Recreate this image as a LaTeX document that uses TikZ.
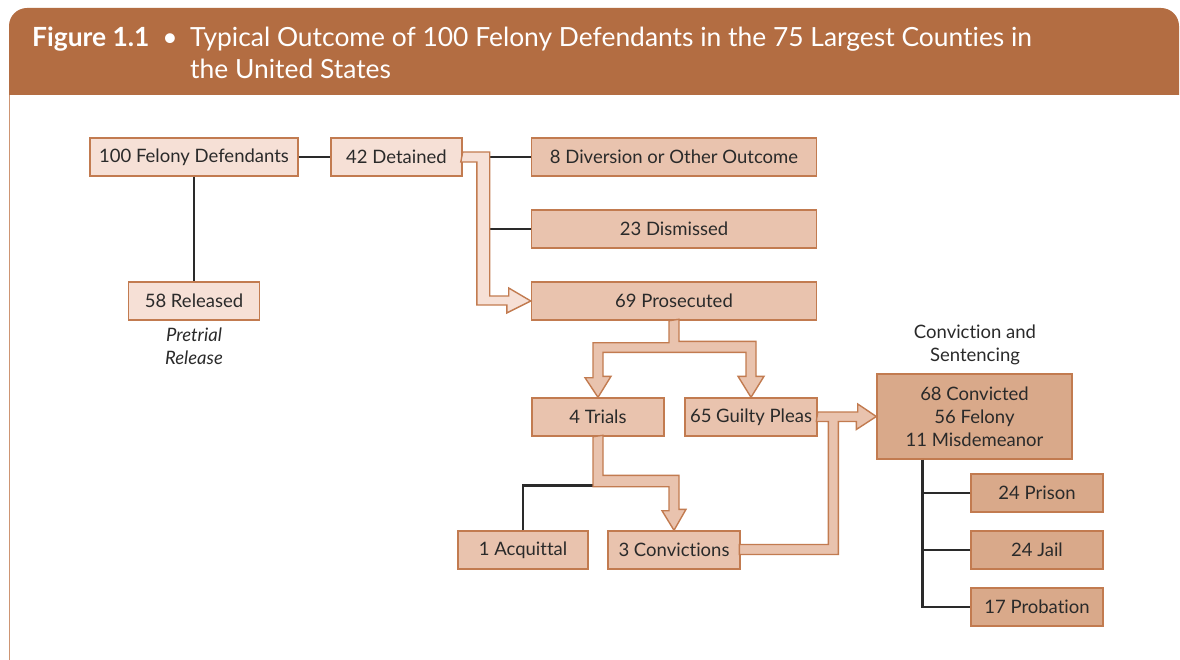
\documentclass[tikz,border=0pt]{standalone}
\usepackage{fontspec}
\setmainfont{Lato}[Ligatures=NoCommon]
\usetikzlibrary{calc}
\definecolor{hdrbrown}{HTML}{B36D42}
\definecolor{boxedge}{HTML}{C27B50}
\definecolor{boxlite}{HTML}{F6E0D6}
\definecolor{boxmid}{HTML}{E9C3AE}
\definecolor{boxdark}{HTML}{D9A98A}
\definecolor{ink}{HTML}{2A2A2A}
\tikzset{
    box/.style={draw=boxedge, line width=1.4pt, minimum height=38pt, inner sep=0pt,
        text=ink, font=\fontsize{18.5}{23}\selectfont, align=center},
    litebox/.style={box, fill=boxlite},
    midbox/.style={box, fill=boxmid},
    darkbox/.style={box, fill=boxdark},
    link/.style={draw=ink, line width=2.7pt},
    fatarrow/.style={draw=boxedge, line width=1.4pt, line join=miter},
    caption/.style={text=ink, font=\fontsize{18.5}{23}\selectfont, align=center},
    headtext/.style={text=white, inner sep=0pt, font=\fontsize{26.4}{32}\selectfont}
}
\begin{document}
\begin{tikzpicture}[x=1pt,y=-1pt]
    \useasboundingbox (0,0) rectangle (1180,660);
    \fill[hdrbrown] (9,95) [rounded corners=18pt] -- (9,8) -- (1179,8) [sharp corners] -- (1179,95) -- cycle;
    \draw[boxedge!80, line width=1.5pt] (9.5,95) -- (9.5,660);
    \node[headtext, anchor=base west, font=\fontsize{26.4}{32}\selectfont\bfseries] (fig) at (32,47) {Figure 1.1};
    \node[headtext, anchor=base] (dot) at (170,47) {•};
    \node[headtext, anchor=base west] (title1) at (190,47) {Typical Outcome of 100 Felony Defendants in the 75 Largest Counties in};
    \node[headtext, anchor=base west] (title2) at (190,79) {the United States};

    \node[litebox, minimum width=208pt] (def) at (194,157) {100 Felony Defendants};
    \node[litebox, minimum width=131pt] (det) at (396.5,157) {42 Detained};
    \node[litebox, minimum width=131pt] (rel) at (194,301) {58 Released};
    \node[caption, font=\fontsize{18.5}{23}\selectfont\itshape] (pre) at (194,346) {Pretrial\\Release};

    \node[midbox, minimum width=285pt] (div) at (674,157) {8 Diversion or Other Outcome};
    \node[midbox, minimum width=285pt] (dis) at (674,229) {23 Dismissed};
    \node[midbox, minimum width=285pt] (pro) at (674,301) {69 Prosecuted};
    \node[midbox, minimum width=132pt] (tri) at (598,417) {4 Trials};
    \node[midbox, minimum width=132pt] (gui) at (751,417) {65 Guilty Pleas};
    \node[midbox, minimum width=130pt] (acq) at (523,550) {1 Acquittal};
    \node[midbox, minimum width=132pt] (cnv) at (674,550) {3 Convictions};

    \node[caption] (sen) at (975,345) {Conviction and\\Sentencing};
    \node[darkbox, minimum width=195pt, minimum height=85pt] (con) at (974.5,416.5) {68 Convicted\\56 Felony\\11 Misdemeanor};
    \foreach \n/\t/\y in {pri/24 Prison/493, jai/24 Jail/550, prb/17 Probation/607}
      {
        \node[darkbox, minimum width=132pt] (\n) at (1037,\y) {\t};
      }

    \draw[link] (def) -- (det);
    \draw[link] (def) -- (rel);
    \coordinate (jn) at (489,157);
    \draw[link] (div.west) -- (div.west -| jn);
    \draw[link] (dis.west) -- (dis.west -| jn);
    \draw[link] (acq.north) |- ($(tri.south)+(-5,49)$);
    \coordinate (tr) at ($(con.south west)+(46,0)$);
    \draw[link] (tr) |- (prb.west);
    \foreach \n in {pri,jai}
      {
        \draw[link] (\n.west) -- (\n.west -| tr);
      }

    \filldraw[fatarrow, fill=boxlite] ($(det.east)+(0,-5)$) -- ++(27,0) -- ++(0,144) -- ++(19,0) -- ++(0,-8)
        -- (pro.west) -- ++(-24,12) -- ++(0,-8) -- ++(-30,0) -- ++(0,-143) -- ++(-16,0) -- cycle;
    \filldraw[fatarrow, fill=boxmid] ($(pro.south)+(-5,0)$) -- ++(0,22) -- ++(-76,0) -- ++(0,35) -- ++(-8,0)
        -- (tri.north) -- ++(13,-21) -- ++(-8,0) -- ++(0,-24) -- ++(143,0) -- ++(0,24) -- ++(-8,0)
        -- (gui.north) -- ++(13,-21) -- ++(-8,0) -- ++(0,-35) -- ++(-77,0) -- ++(0,-22) -- cycle;
    \filldraw[fatarrow, fill=boxmid] ($(tri.south)+(-5,0)$) -- ++(0,50) -- ++(76,0) -- ++(0,24) -- ++(-7,0)
        -- (cnv.north) -- ++(12,-21) -- ++(-7,0) -- ++(0,-34) -- ++(-76,0) -- ++(0,-40) -- cycle;
    \filldraw[fatarrow, fill=boxmid] ($(gui.east)+(0,-5)$) -- ++(40,0) -- ++(0,-8) -- (con.west) -- ++(-20,13)
        -- ++(0,-8) -- ++(-18,0) -- ++(0,133) -- ++(-99,0) -- ++(0,-10) -- ++(89,0) -- ++(0,-123) -- ++(-12,0) -- cycle;
\end{tikzpicture}
\end{document}
